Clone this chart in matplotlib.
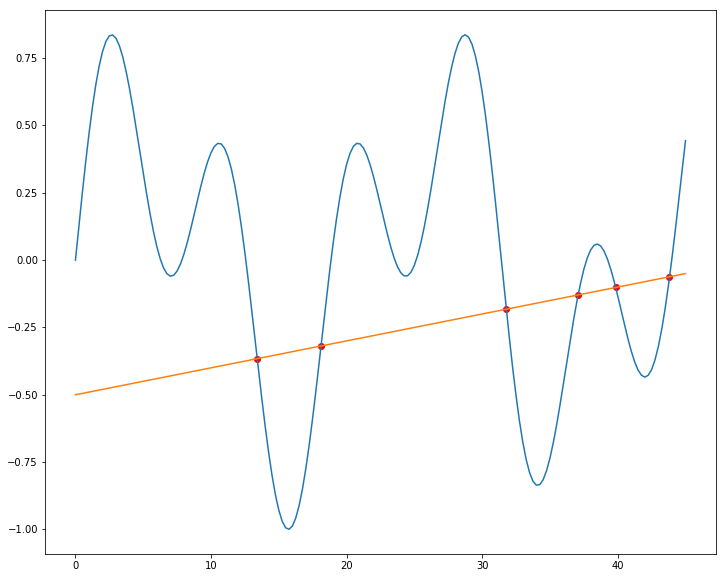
import matplotlib
matplotlib.use("Agg")
import matplotlib.pyplot as plt
import numpy

#%%
# curve values, every 0.25 on x
xCurve = numpy.arange(0, 45.001, 0.25)
yCurve = [
    0.0, 0.1245, 0.2462, 0.3622, 0.4699, 0.5669, 0.6511, 0.7210, 0.7751, 0.8124,
    0.8328, 0.8362, 0.8232, 0.7949, 0.7526, 0.6980, 0.6335, 0.5613, 0.4837, 0.4036,
    0.3234, 0.2458, 0.1731, 0.1076, 0.0511, 0.0052, -0.0289, -0.0506, -0.0596, -0.0560,
    -0.0404, -0.0139, 0.0221, 0.0658, 0.1153, 0.1682, 0.2221, 0.2746, 0.3231, 0.3653,
    0.3990, 0.4224, 0.4336, 0.4316, 0.4152, 0.3842, 0.3387, 0.2790, 0.2060, 0.1213,
    0.0266, -0.0761, -0.1843, -0.2955, -0.4068, -0.5157, -0.6190, -0.7143, -0.7992, -0.8712,
    -0.9286, -0.9696, -0.9937, -0.9996, -0.9877, -0.9579, -0.9112, -0.8485, -0.7720, -0.6834,
    -0.5850, -0.4797, -0.3696, -0.2579, -0.1475, -0.0409, 0.0595, 0.1511, 0.2319, 0.3006,
    0.3556, 0.3963, 0.4223, 0.4338, 0.4313, 0.4158, 0.3888, 0.3519, 0.3073, 0.2573,
    0.2041, 0.1502, 0.0982, 0.0504, 0.0090, -0.0240, -0.0470, -0.0586, -0.0580, -0.0448,
    -0.0188, 0.0193, 0.0690, 0.1285, 0.1969, 0.2711, 0.3502, 0.4303, 0.5102, 0.5858,
    0.6563, 0.7176, 0.7683, 0.8063, 0.8294, 0.8371, 0.8279, 0.8019, 0.7587, 0.6994,
    0.6244, 0.5358, 0.4347, 0.3242, 0.2058, 0.0830, -0.0420, -0.1660, -0.2859, -0.3996,
    -0.5037, -0.5970, -0.6764, -0.7411, -0.7895, -0.8213, -0.8358, -0.8337, -0.8154, -0.7820,
    -0.7356, -0.6773, -0.6100, -0.5356, -0.4569, -0.3764, -0.2969, -0.2207, -0.1502, -0.0876,
    -0.0345, 0.0076, 0.0376, 0.0551, 0.0598, 0.0521, 0.0327, 0.0028, -0.0360, -0.0820,
    -0.1328, -0.1862, -0.2400, -0.2915, -0.3381, -0.3781, -0.4082, -0.4274, -0.4345, -0.4276,
    -0.4064, -0.3706, -0.3201, -0.2560, -0.1788, -0.0905, 0.0072, 0.1119, 0.2215, 0.3329,
    0.4438,
]

xLine = [0, 45]
yLine = [-0.5, -0.05]

xCross = [13.408, 18.114, 31.787, 37.091, 39.839, 43.814]
yCross = [-0.3659, -0.3189, -0.1821, -0.1291, -0.1016, -0.0619]

#%%
fig = plt.figure(figsize=(725 / 72, 578 / 72), dpi=72)
fig.subplots_adjust(left=0.062, right=0.9876, top=0.9827, bottom=0.0415)
ax = fig.add_subplot(111)
ax.plot(xCurve, yCurve)
ax.plot(xLine, yLine)
ax.scatter(xCross, yCross, color="red")
ax.set_xticks(list(range(0, 41, 10)))
ax.set_yticks([-1.0, -0.75, -0.5, -0.25, 0.0, 0.25, 0.5, 0.75])
fig.savefig("out.png", dpi=72)
